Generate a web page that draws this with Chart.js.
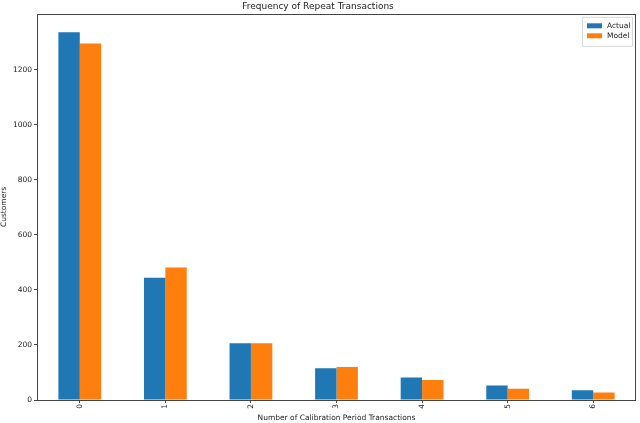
<!DOCTYPE html>
<html>
<head>
<meta charset="utf-8">
<script src="https://cdn.jsdelivr.net/npm/chart.js@4.4.1/dist/chart.umd.min.js"></script>
<style>
  html, body { margin: 0; padding: 0; background: #fff; }
  #wrap { width: 640px; height: 423px; position: relative; }
</style>
</head>
<body>
<div id="wrap"><canvas id="c" width="640" height="423"></canvas></div>
<script>
const categories = ['0', '1', '2', '3', '4', '5', '6'];
const actualValues = [1337, 444, 206, 115, 82, 53, 35];
const modelValues = [1296, 482, 206, 120, 73, 41, 27];
const yTicks = [0, 200, 400, 600, 800, 1000, 1200];
const seriesNames = ['Actual', 'Model'];

const FONT = 'DejaVu Sans';
const AXIS_COLOR = '#444';
const TEXT_COLOR = '#222';

const framePlugin = {
  id: 'frame',
  afterDatasetsDraw(chart) {
    const { ctx, chartArea: a } = chart;
    ctx.save();
    ctx.strokeStyle = AXIS_COLOR;
    ctx.lineWidth = 1;
    ctx.strokeRect(Math.round(a.left) + 0.5, Math.round(a.top) + 0.5,
                   Math.round(a.right - a.left) - 1, Math.round(a.bottom - a.top));
    ctx.restore();
  }
};

const legendPlugin = {
  id: 'boxLegend',
  afterDraw(chart) {
    const { ctx, chartArea: a } = chart;
    const ds = chart.data.datasets;
    ctx.save();
    const bx = a.right - 54, by = a.top + 3, bw = 50, bh = 29;
    ctx.fillStyle = 'rgba(255,255,255,0.9)';
    ctx.fillRect(bx, by, bw, bh);
    ctx.strokeStyle = '#d8d8d8';
    ctx.lineWidth = 1;
    ctx.strokeRect(bx + 0.5, by + 0.5, bw, bh);
    ctx.font = '7.5px "' + FONT + '"';
    ctx.textBaseline = 'middle';
    ds.forEach((d, i) => {
      const y = by + 9 + i * 10;
      ctx.fillStyle = d.backgroundColor;
      ctx.fillRect(bx + 5, y - 2.5, 15, 5);
      ctx.fillStyle = TEXT_COLOR;
      ctx.fillText(d.label, bx + 25, y + 0.5);
    });
    ctx.restore();
  }
};

new Chart(document.getElementById('c'), {
  type: 'bar',
  data: {
    labels: categories,
    datasets: [
      { label: seriesNames[0], data: actualValues, backgroundColor: '#1f77b4' },
      { label: seriesNames[1], data: modelValues, backgroundColor: '#ff7f0e' }
    ]
  },
  options: {
    responsive: false,
    animation: false,
    devicePixelRatio: 1,
    layout: { padding: { left: 0, right: 4, top: 0, bottom: 0 } },
    datasets: { bar: { categoryPercentage: 0.5, barPercentage: 1.0, borderWidth: 0 } },
    plugins: {
      legend: { display: false },
      tooltip: { enabled: false },
      title: {
        display: true,
        text: 'Frequency of Repeat Transactions',
        color: TEXT_COLOR,
        font: { family: FONT, size: 9, weight: 'normal' },
        padding: { top: 1, bottom: 2 }
      }
    },
    scales: {
      x: {
        offset: true,
        grid: { display: true, drawOnChartArea: false, drawTicks: true, tickLength: 3, color: AXIS_COLOR, offset: false },
        border: { display: false },
        ticks: {
          color: TEXT_COLOR, font: { family: FONT, size: 7.5 },
          maxRotation: 90, minRotation: 90, padding: 1
        },
        title: {
          display: true, text: 'Number of Calibration Period Transactions',
          color: TEXT_COLOR, font: { family: FONT, size: 7.5 },
          padding: { top: 0, bottom: 0 }
        },
        afterFit(s) { s.height = 23; }
      },
      y: {
        min: 0,
        max: 1404,
        afterBuildTicks(s) { s.ticks = yTicks.map(v => ({ value: v })); },
        grid: { display: true, drawOnChartArea: false, drawTicks: true, tickLength: 3, color: AXIS_COLOR },
        border: { display: false },
        ticks: {
          color: TEXT_COLOR, font: { family: FONT, size: 7.5 }, padding: 2,
          callback: (v) => String(v)
        },
        title: {
          display: true, text: 'Customers',
          color: TEXT_COLOR, font: { family: FONT, size: 7.5 },
          padding: { top: 0, bottom: 0 }
        },
        afterFit(s) { s.width = 37; }
      }
    }
  },
  plugins: [framePlugin, legendPlugin]
});
</script>
</body>
</html>
